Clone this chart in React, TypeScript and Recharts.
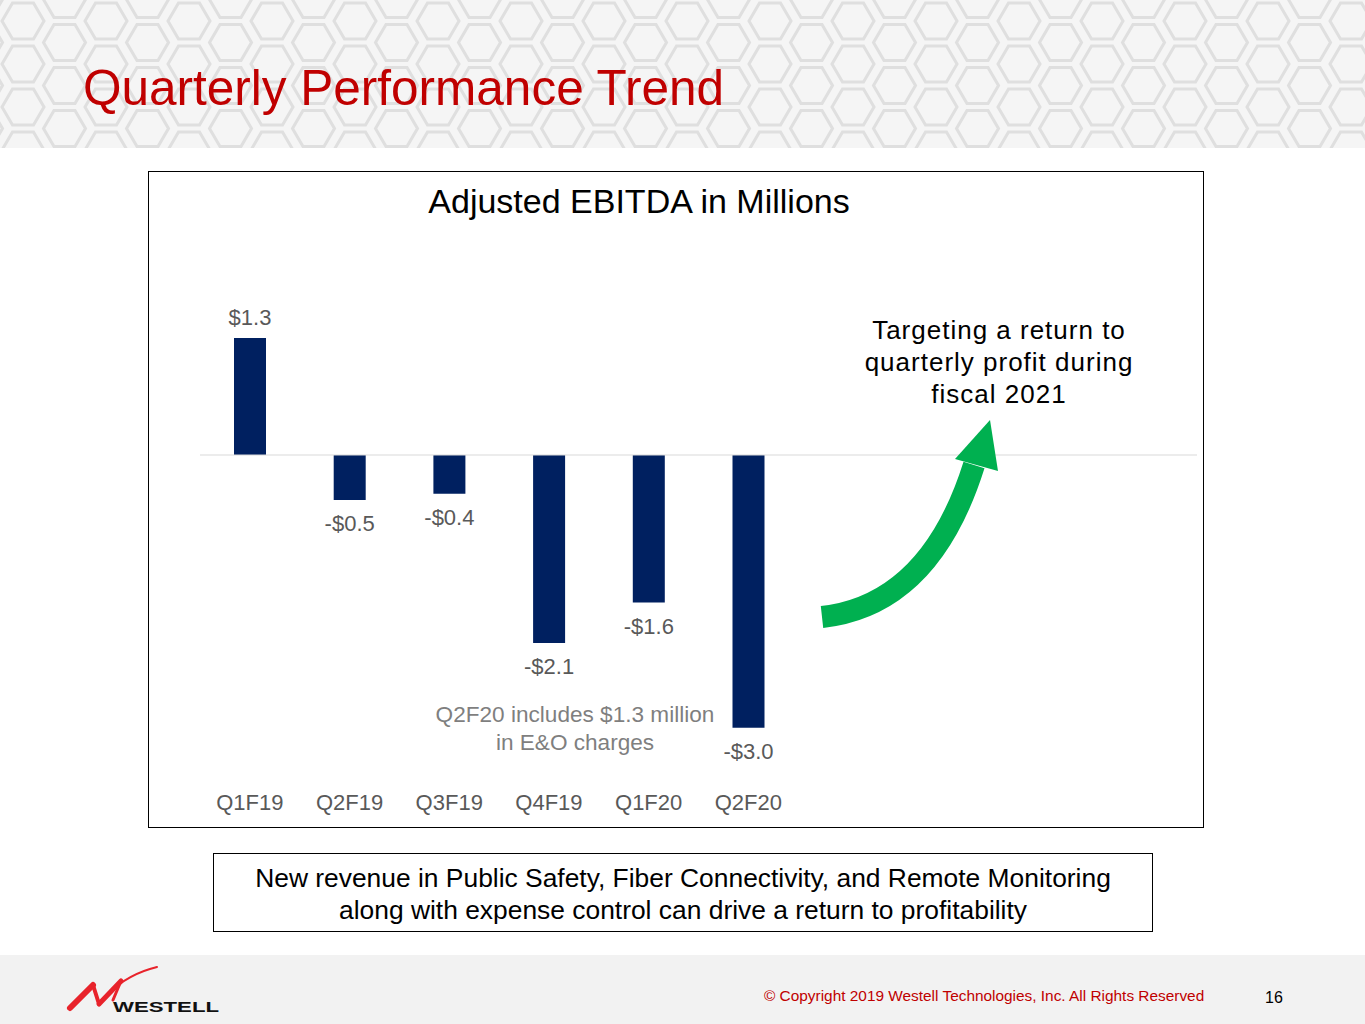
import React from "react";
import {
  Bar,
  BarChart,
  LabelList,
  ReferenceLine,
  XAxis,
  YAxis,
} from "recharts";

const CATEGORIES = ["Q1F19", "Q2F19", "Q3F19", "Q4F19", "Q1F20", "Q2F20", "", "", "", ""];
const EBITDA = [1.3, -0.5, -0.43, -2.09, -1.64, -3.03];

const TARGET_NOTE = ["Targeting a return to", "quarterly profit during", "fiscal 2021"];
const CHARGE_NOTE = ["Q2F20 includes $1.3 million", "in E&O charges"];
const SUMMARY = [
  "New revenue in Public Safety, Fiber Connectivity, and Remote Monitoring",
  "along with expense control can drive a return to profitability",
];

const FONT = "'Liberation Sans', Arial, sans-serif";
const NAVY = "#002060";
const LABEL = "#595959";
const NOTE = "#7f7f7f";
const RED = "#c00000";
const GREEN = "#00b050";

const data = CATEGORIES.map((quarter, i) => ({
  quarter,
  ebitda: i < EBITDA.length ? EBITDA[i] : null,
}));

const fmt = (v: number) =>
  v < 0 ? `-$${Math.abs(v).toFixed(1)}` : `$${v.toFixed(1)}`;

const renderValueLabel = (props: any) => {
  const { x, y, width, height, value } = props;
  if (value == null) return null;
  const top = Math.min(y, y + height);
  const bottom = Math.max(y, y + height);
  const cy = value >= 0 ? top - 21 : bottom + 23;
  return (
    <text
      x={x + width / 2}
      y={cy + 8}
      textAnchor="middle"
      fontSize={22}
      fill={LABEL}
      fontFamily={FONT}
    >
      {fmt(value)}
    </text>
  );
};

function Background() {
  return (
    <svg width={1365} height={1024} style={{ position: "absolute", left: 0, top: 0 }}>
      <defs>
        <pattern id="hex" width={83} height={43} patternUnits="userSpaceOnUse" x={0} y={0}>
          <rect width={83} height={43} fill="#f5f5f5" />
          {[
            [23, 21],
            [64.5, -0.5],
            [64.5, 42.5],
            [-18.5, -0.5],
            [-18.5, 42.5],
            [106, 21],
          ].map(([cx, cy], i) => (
            <polygon
              key={i}
              points={`${cx - 21},${cy} ${cx - 10.5},${cy - 18} ${cx + 10.5},${cy - 18} ${cx + 21},${cy} ${cx + 10.5},${cy + 18} ${cx - 10.5},${cy + 18}`}
              fill="none"
              stroke="#dfdfdf"
              strokeWidth={3}
            />
          ))}
        </pattern>
      </defs>
      <rect x={0} y={0} width={1365} height={148} fill="url(#hex)" />
      <text x={83} y={105} fontSize={49.5} fill={RED} fontFamily={FONT}>
        Quarterly Performance Trend
      </text>

      <rect x={148.5} y={171.5} width={1055} height={656} fill="#fff" stroke="#000" strokeWidth={1} />
      <text x={639} y={213} fontSize={34} textAnchor="middle" fill="#000" fontFamily={FONT}>
        Adjusted EBITDA in Millions
      </text>

      <rect x={213.5} y={853.5} width={939} height={78} fill="#fff" stroke="#000" strokeWidth={1} />
      {SUMMARY.map((s, i) => (
        <text key={i} x={683} y={887 + i * 32} fontSize={26.4} textAnchor="middle" fill="#000" fontFamily={FONT}>
          {s}
        </text>
      ))}

      <rect x={0} y={955} width={1365} height={69} fill="#f2f2f2" />
      <g fill="none" stroke="#e8232b" strokeLinecap="round">
        <path d="M70 1008 L93 985" strokeWidth={6} />
        <path d="M93 985 L99 1004" strokeWidth={4} />
        <path d="M99 1004 L121 981" strokeWidth={5} />
        <path d="M121 981 L113 1000" strokeWidth={3} />
        <path d="M108 994 Q128 974 157 967" strokeWidth={2} />
      </g>
      <text
        x={113}
        y={1012}
        fontSize={15}
        fontWeight={900}
        fill="#111"
        fontFamily={FONT}
        textLength={106}
        lengthAdjust="spacingAndGlyphs"
      >
        WESTELL
      </text>
      <text x={764} y={1001} fontSize={15.4} fill={RED} fontFamily={FONT}>
        © Copyright 2019 Westell Technologies, Inc. All Rights Reserved
      </text>
      <text x={1265} y={1003} fontSize={16} fill="#000" fontFamily={FONT}>
        16
      </text>
    </svg>
  );
}

function Foreground() {
  return (
    <svg
      width={1365}
      height={1024}
      style={{ position: "absolute", left: 0, top: 0, pointerEvents: "none" }}
    >
      {TARGET_NOTE.map((s, i) => (
        <text
          key={i}
          x={999}
          y={339 + i * 32}
          fontSize={26}
          letterSpacing={1}
          textAnchor="middle"
          fill="#000"
          fontFamily={FONT}
        >
          {s}
        </text>
      ))}
      {CHARGE_NOTE.map((s, i) => (
        <text key={i} x={575} y={722 + i * 28} fontSize={22.6} textAnchor="middle" fill={NOTE} fontFamily={FONT}>
          {s}
        </text>
      ))}
      <path d="M822 617 Q930 605 974 465" fill="none" stroke={GREEN} strokeWidth={22} />
      <polygon points="990,420 955,459 998,471" fill={GREEN} />
    </svg>
  );
}

export default function App() {
  return (
    <div
      style={{
        position: "absolute",
        left: 0,
        top: 0,
        width: 1365,
        height: 1024,
        overflow: "hidden",
        background: "#fff",
        fontFamily: FONT,
      }}
    >
      <Background />
      <div style={{ position: "absolute", left: 149, top: 172 }}>
        <BarChart
          width={1054}
          height={655}
          data={data}
          margin={{ top: 103, right: 6, bottom: 27, left: 51 }}
        >
          <XAxis
            dataKey="quarter"
            axisLine={false}
            tickLine={false}
            tickMargin={18}
            height={30}
            interval={0}
            tick={{ fontSize: 22, fill: LABEL, fontFamily: FONT }}
          />
          <YAxis hide domain={[-3.5, 2]} />
          <ReferenceLine y={0} stroke="#d9d9d9" strokeWidth={1} />
          <Bar dataKey="ebitda" fill={NAVY} barSize={32} isAnimationActive={false}>
            <LabelList dataKey="ebitda" content={renderValueLabel} />
          </Bar>
        </BarChart>
      </div>
      <Foreground />
    </div>
  );
}
